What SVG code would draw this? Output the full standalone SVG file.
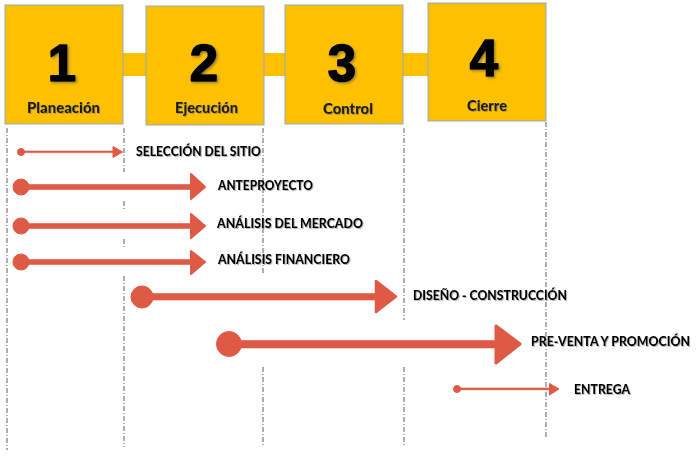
<svg xmlns="http://www.w3.org/2000/svg" width="700" height="456" viewBox="0 0 700 456">
<defs>
<style>
.box{fill:#FFC000;stroke:#8EA9C8;stroke-width:1}
.bar{fill:#FFC000}
.num{font-family:"Liberation Sans",Arial,sans-serif;font-weight:bold;font-size:51px;fill:#000;stroke:#000;stroke-width:1.6;stroke-linejoin:round;text-anchor:middle}
.ph{font-family:Lato,"Liberation Sans",sans-serif;font-weight:900;font-size:15px;fill:#1a1a1a}
.lbl{font-family:Lato,"Liberation Sans",sans-serif;font-weight:900;font-size:14px;fill:#000}
.grid{stroke:#6e6e6e;stroke-width:1.1;stroke-dasharray:5 2 1 2;fill:none}
.arr{fill:#DF5A45;stroke:#DF5A45;stroke-linejoin:round}
</style>
<filter id="sh" x="-10%" y="-30%" width="130%" height="170%">
<feDropShadow dx="1.5" dy="1.5" stdDeviation="0.8" flood-color="#555" flood-opacity="0.6"/>
</filter>
<filter id="sh2" x="-5%" y="-30%" width="110%" height="170%">
<feDropShadow dx="1" dy="1" stdDeviation="0.6" flood-color="#666" flood-opacity="0.45"/>
</filter>
</defs>
<rect width="700" height="456" fill="#fff"/>

<g id="grid">
<line class="grid" x1="7" y1="128" x2="7" y2="450"/>
<line class="grid" x1="124" y1="128" x2="124" y2="172"/>
<line class="grid" x1="124" y1="201" x2="124" y2="211"/>
<line class="grid" x1="124" y1="239" x2="124" y2="249"/>
<line class="grid" x1="124" y1="276" x2="124" y2="447"/>
<line class="grid" x1="263" y1="128" x2="263" y2="275"/>
<line class="grid" x1="263" y1="367" x2="263" y2="446"/>
<line class="grid" x1="404" y1="128" x2="404" y2="320"/>
<line class="grid" x1="404" y1="367" x2="404" y2="446"/>
<line class="grid" x1="546" y1="122" x2="546" y2="438"/>
</g>

<g id="bars">
<rect class="bar" x="122" y="53" width="25" height="23"/>
<rect class="bar" x="263" y="53" width="23" height="23"/>
<rect class="bar" x="402" y="53" width="27" height="23"/>
</g>

<g id="phase1">
<rect class="box" x="5" y="5" width="118" height="119"/>
<text class="num" x="62" y="81" filter="url(#sh)">1</text>
<text class="ph" x="27" y="113" textLength="73" lengthAdjust="spacingAndGlyphs" filter="url(#sh2)">Planeación</text>
</g>
<g id="phase2">
<rect class="box" x="146" y="6" width="118" height="119"/>
<text class="num" x="204" y="81" filter="url(#sh)">2</text>
<text class="ph" x="175" y="113" textLength="63" lengthAdjust="spacingAndGlyphs" filter="url(#sh2)">Ejecución</text>
</g>
<g id="phase3">
<rect class="box" x="285" y="5" width="118" height="119"/>
<text class="num" x="342" y="81" filter="url(#sh)">3</text>
<text class="ph" x="323" y="114" textLength="50" lengthAdjust="spacingAndGlyphs" filter="url(#sh2)">Control</text>
</g>
<g id="phase4">
<rect class="box" x="428" y="3" width="118" height="118"/>
<text class="num" x="484" y="76" filter="url(#sh)">4</text>
<text class="ph" x="467" y="111" textLength="40" lengthAdjust="spacingAndGlyphs" filter="url(#sh2)">Cierre</text>
</g>

<g id="connectors">
<g id="a1">
<circle class="arr" cx="21" cy="152" r="3.5"/>
<rect class="arr" x="21" y="151" width="93" height="1.6" stroke-width="0.6"/>
<polygon class="arr" points="113,146.5 122.5,152 113,157.5" stroke-width="1"/>
</g>
<g id="a2">
<circle class="arr" cx="21" cy="187" r="8"/>
<rect class="arr" x="21" y="184.5" width="170" height="5" stroke-width="0.6"/>
<polygon class="arr" points="191,174 205,187 191,199" stroke-width="2"/>
</g>
<g id="a3">
<circle class="arr" cx="21" cy="226" r="8"/>
<rect class="arr" x="21" y="223.5" width="170" height="5" stroke-width="0.6"/>
<polygon class="arr" points="191,214 205,226 191,238" stroke-width="2"/>
</g>
<g id="a4">
<circle class="arr" cx="21" cy="262" r="8"/>
<rect class="arr" x="21" y="259.5" width="170" height="5" stroke-width="0.6"/>
<polygon class="arr" points="191,251 205,262 191,274" stroke-width="2"/>
</g>
<g id="a5">
<circle class="arr" cx="142" cy="297" r="11"/>
<rect class="arr" x="142" y="293.5" width="234" height="6.5" stroke-width="0.6"/>
<polygon class="arr" points="376,281 396,296.5 376,312" stroke-width="2.5"/>
</g>
<g id="a6">
<circle class="arr" cx="229" cy="344" r="12.5"/>
<rect class="arr" x="229" y="340.5" width="267" height="7.5" stroke-width="0.6"/>
<polygon class="arr" points="496,326 520,344 496,363" stroke-width="3"/>
</g>
<g id="a7">
<circle class="arr" cx="457" cy="389" r="3.5"/>
<rect class="arr" x="457" y="388" width="93" height="1.8" stroke-width="0.6"/>
<polygon class="arr" points="549.5,383.5 559,389 549.5,395" stroke-width="1"/>
</g>
</g>

<g id="t1"><text class="lbl" x="136" y="156" textLength="125" lengthAdjust="spacingAndGlyphs" filter="url(#sh2)">SELECCIÓN DEL SITIO</text></g>
<g id="t2"><text class="lbl" x="218" y="190" textLength="95" lengthAdjust="spacingAndGlyphs" filter="url(#sh2)">ANTEPROYECTO</text></g>
<g id="t3"><text class="lbl" x="217" y="228" textLength="146" lengthAdjust="spacingAndGlyphs" filter="url(#sh2)">ANÁLISIS DEL MERCADO</text></g>
<g id="t4"><text class="lbl" x="218" y="264" textLength="132" lengthAdjust="spacingAndGlyphs" filter="url(#sh2)">ANÁLISIS FINANCIERO</text></g>
<g id="t5"><text class="lbl" x="413" y="300" textLength="154" lengthAdjust="spacingAndGlyphs" filter="url(#sh2)">DISEÑO - CONSTRUCCIÓN</text></g>
<g id="t6"><text class="lbl" x="531" y="346" textLength="159" lengthAdjust="spacingAndGlyphs" filter="url(#sh2)">PRE-VENTA Y PROMOCIÓN</text></g>
<g id="t7"><text class="lbl" x="574" y="394" textLength="56" lengthAdjust="spacingAndGlyphs" filter="url(#sh2)">ENTREGA</text></g>
</svg>
